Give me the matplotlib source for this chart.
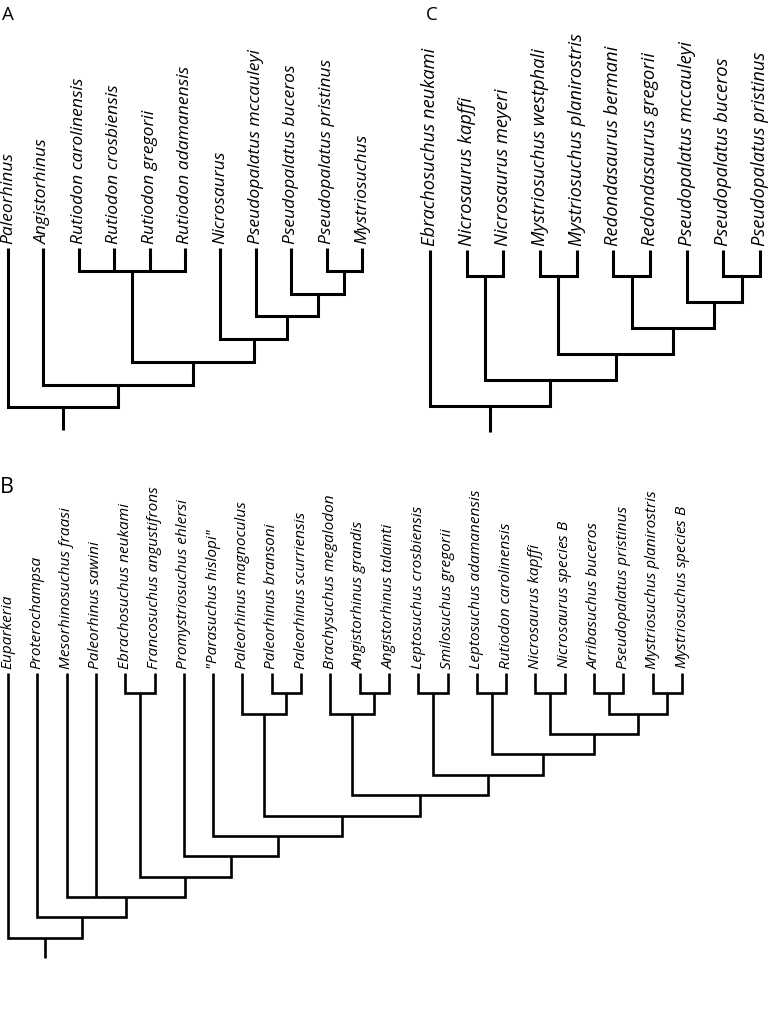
import matplotlib
matplotlib.use("Agg")
import matplotlib.pyplot as plt

plt.rcParams['font.family'] = ['Open Sans', 'DejaVu Sans']
plt.rcParams['mathtext.fontset'] = 'custom'
plt.rcParams['mathtext.rm'] = 'Open Sans'
plt.rcParams['mathtext.it'] = 'Open Sans:italic'

# trees as nested tuples, leaves are taxon names
tree_a = ("Paleorhinus",
          ("Angistorhinus",
           (("Rutiodon carolinensis", "Rutiodon crosbiensis", "Rutiodon gregorii", "Rutiodon adamanensis"),
            ("Nicrosaurus",
             ("Pseudopalatus mccauleyi",
              ("Pseudopalatus buceros",
               ("Pseudopalatus pristinus", "Mystriosuchus")))))))

tree_c = ("Ebrachosuchus neukami",
          (("Nicrosaurus kapffi", "Nicrosaurus meyeri"),
           (("Mystriosuchus westphali", "Mystriosuchus planirostris"),
            (("Redondasaurus bermani", "Redondasaurus gregorii"),
             ("Pseudopalatus mccauleyi",
              ("Pseudopalatus buceros", "Pseudopalatus pristinus"))))))

tree_b = ("Euparkeria",
          ("Proterochampsa",
           ("Mesorhinosuchus fraasi", "Paleorhinus sawini",
            (("Ebrachosuchus neukami", "Francosuchus angustifrons"),
             ("Promystriosuchus ehlersi",
              ('"Parasuchus hislopi"',
               (("Paleorhinus magnoculus", ("Paleorhinus bransoni", "Paleorhinus scurriensis")),
                (("Brachysuchus megalodon", ("Angistorhinus grandis", "Angistorhinus talainti")),
                 (("Leptosuchus crosbiensis", "Smilosuchus gregorii"),
                  (("Leptosuchus adamanensis", "Rutiodon carolinensis"),
                   (("Nicrosaurus kapffi", "Nicrosaurus species B"),
                    (("Arribasuchus buceros", "Pseudopalatus pristinus"),
                     ("Mystriosuchus planirostris", "Mystriosuchus species B")))))))))))))

W, H = 770, 1019
fig = plt.figure(figsize=(W / 100, H / 100), dpi=100)


def leaves(node):
    if isinstance(node, str):
        return [node]
    out = []
    for c in node:
        out += leaves(c)
    return out


def fmt(name):
    # genus/species in italics, "species B" upright
    if name.endswith(" species B"):
        return r"$\mathit{" + name.split()[0] + "}$ species B"
    return name


def draw(ax, node, names, lw):
    if isinstance(node, str):
        return names.index(node), 0
    kids = [draw(ax, c, names, lw) for c in node]
    lev = max(k[1] for k in kids) + 1
    xs = [k[0] for k in kids]
    x0, x1 = min(xs), max(xs)
    first, last = kids[0], kids[-1]
    ax.plot([first[0], first[0], last[0], last[0]], [first[1], lev, lev, last[1]],
            color='black', lw=lw, solid_joinstyle='miter', solid_capstyle='butt', clip_on=False)
    for k in kids[1:-1]:
        ax.plot([k[0], k[0]], [k[1], lev], color='black', lw=lw,
                solid_capstyle='butt', clip_on=False)
    return (x0 + x1) / 2, lev


def panel(tree, px_left, px_right, px_top, px_bottom, fs, lw):
    names = leaves(tree)
    ax = fig.add_axes([px_left / W, 1 - px_bottom / H,
                       (px_right - px_left) / W, (px_bottom - px_top) / H])
    x, lev = draw(ax, tree, names, lw)
    ax.plot([x, x], [lev, lev + 1], color='black', lw=lw, solid_capstyle='butt', clip_on=False)
    ax.set_xlim(0, len(names) - 1)
    ax.set_ylim(lev + 1, 0)
    for i, n in enumerate(names):
        ax.annotate(fmt(n), (i, 0), xytext=(0, 3), textcoords='offset points',
                    rotation=90, ha='center', va='bottom', fontsize=fs,
                    style='italic', annotation_clip=False)
    ax.axis('off')
    return ax


panel(tree_a, 8, 362, 248, 430, 12.6, 2.2)
panel(tree_c, 430, 760, 250, 432, 13.2, 2.2)
panel(tree_b, 8, 682, 673, 958, 11.1, 1.9)

fig.text(2 / W, 1 - 6 / H, "A", fontsize=13.5, va='top', ha='left')
fig.text(426 / W, 1 - 6 / H, "C", fontsize=13.5, va='top', ha='left')
fig.text(0 / W, 1 - 477 / H, "B", fontsize=15.5, va='top', ha='left')

fig.savefig("out.png", dpi=100)
